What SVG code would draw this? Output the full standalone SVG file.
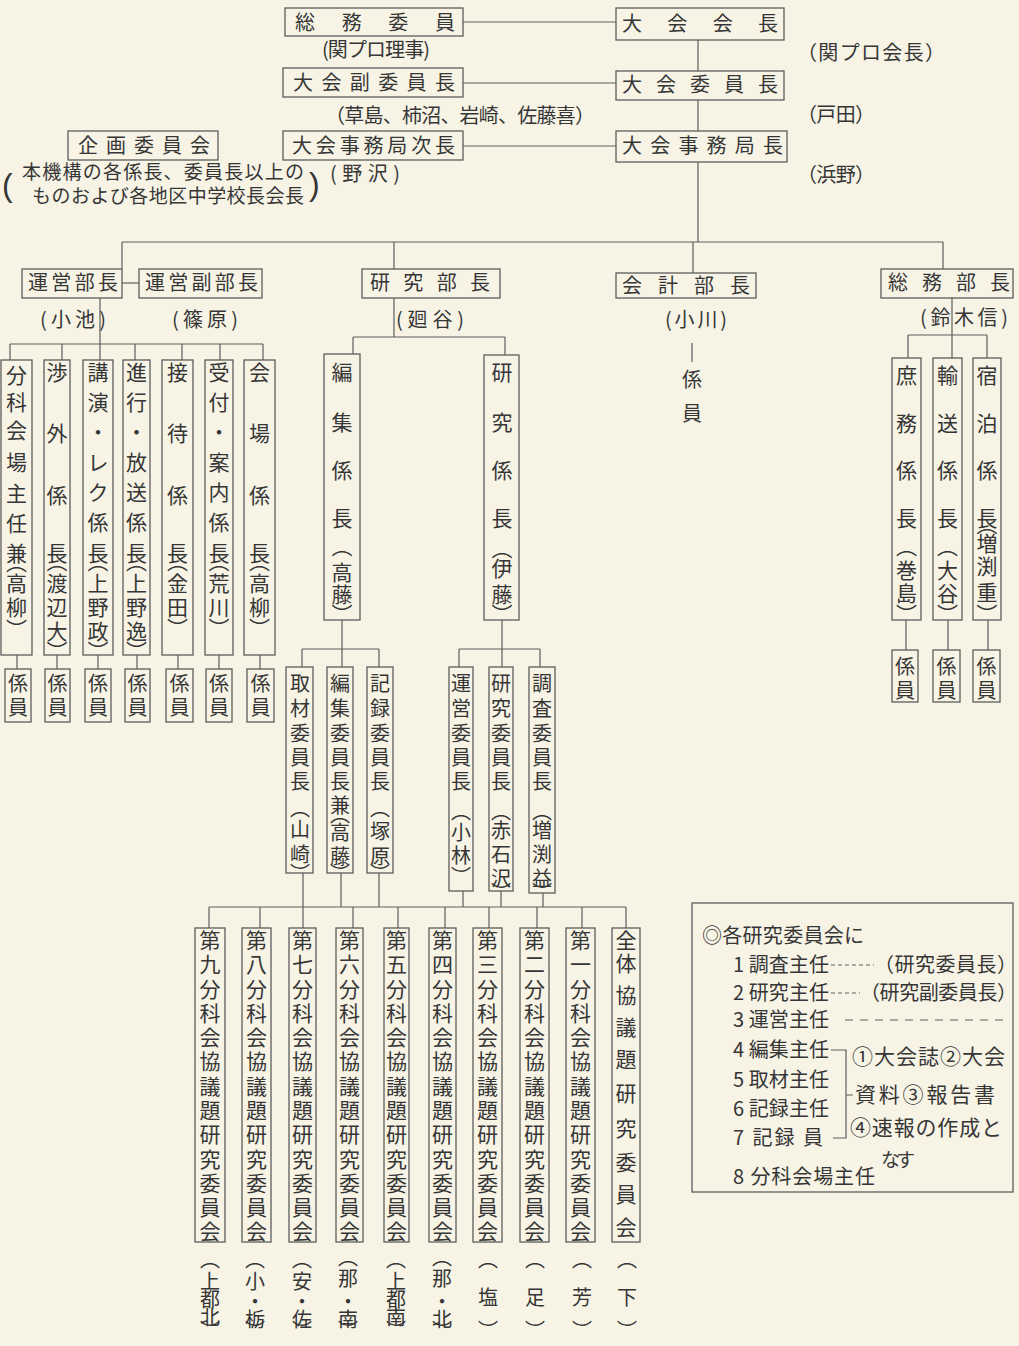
<svg xmlns="http://www.w3.org/2000/svg" width="1019" height="1346" viewBox="0 0 1019 1346">
<style>
text{font-family:"Noto Sans CJK JP","Noto Sans CJK SC",sans-serif;fill:#363636}
.h{font-size:20px}
.n{font-size:19px}
.v{font-size:21px;text-anchor:middle}
.s{font-size:20px;text-anchor:middle}
.g{font-size:21px}
.bx{fill:none;stroke:#5c5c5c;stroke-width:1.3}
#connectors path{stroke:#5c5c5c;stroke-width:1.2;fill:none}
.ln{stroke:#5c5c5c;stroke-width:1.2;fill:none}
.d1{stroke-dasharray:4 3}
.d2{stroke-dasharray:8 7}
.par{font-family:"Liberation Sans",sans-serif;font-size:32px}
</style>
<rect x="0" y="0" width="1019" height="1346" fill="#f7f4e6"/>

<g id="connectors">
<path d="M463 22H616M463 83H616M463 146H616"/>
<path d="M698 40V71M698 100V131M698 162V242"/>
<path d="M122 242H943M122 242V269M394 242V269M693 242V273M943 242V269"/>
<path d="M122 283H139"/>
<path d="M100 298V360M10 344H263M10 344V360M62 344V360M135 344V360M182 344V360M220 344V360M263 344V360"/>
<path d="M17 655V669M57 655V669M98 655V669M137 655V669M178 655V669M219 655V669M260 655V669"/>
<path d="M394 298V337M353 337H505M353 337V354M505 337V355"/>
<path d="M342 620V667M302 649H379M302 649V667M379 649V667"/>
<path d="M502 620V667M459 649H540M459 649V667M540 649V667"/>
<path d="M303 873V907M341 873V907M379 873V907M463 891V907M501 891V907M543 893V907"/>
<path d="M209 907H626M209 907V928M260 907V928M303 907V928M353 907V928M398 907V928M445 907V928M489 907V928M537 907V928M582 907V928M626 907V928"/>
<path d="M692 343V362"/>
<path d="M952 298V358M908 335H987M908 335V358M987 335V358"/>
<path d="M906 620V650M948 620V650M988 620V650"/>
</g>

<!-- top nodes -->
<g id="soumu-iin"><rect class="bx" x="285" y="8" width="178" height="28"/><text class="h" x="295" y="30" textLength="160">総務委員</text><text class="h" x="322" y="57" textLength="108">(関プロ理事)</text></g>
<g id="fuku-iincho"><rect class="bx" x="283" y="68" width="180" height="29"/><text class="h" x="293" y="90" textLength="162">大会副委員長</text><text class="h" x="325" y="123" textLength="270">（草島、柿沼、岩崎、佐藤喜）</text></g>
<g id="jimu-jicho"><rect class="bx" x="283" y="131" width="180" height="29"/><text class="h" x="292" y="153" textLength="163">大会事務局次長</text><text class="h" x="330" y="181" textLength="70">(野沢)</text></g>
<g id="kikaku"><rect class="bx" x="68" y="131" width="150" height="29"/><text class="h" x="78" y="153" textLength="132">企画委員会</text>
<text class="par" x="2" y="196">(</text><text class="n"><tspan x="22" y="179" textLength="282">本機構の各係長、委員長以上の</tspan><tspan x="32" y="203" textLength="272">ものおよび各地区中学校長会長</tspan></text><text class="par" x="309" y="195">)</text></g>
<g id="kaicho"><rect class="bx" x="616" y="8" width="168" height="32"/><text class="h" x="622" y="31" textLength="156">大会会長</text><text class="h" x="797" y="60" textLength="148">（関プロ会長）</text></g>
<g id="iincho"><rect class="bx" x="616" y="71" width="168" height="29"/><text class="h" x="622" y="92" textLength="156">大会委員長</text><text class="h" x="797" y="122" textLength="78">（戸田）</text></g>
<g id="jimukyokucho"><rect class="bx" x="616" y="131" width="171" height="31"/><text class="h" x="622" y="153" textLength="161">大会事務局長</text><text class="h" x="797" y="182" textLength="78">（浜野）</text></g>

<!-- department heads -->
<g id="unei-bucho"><rect class="bx" x="22" y="269" width="100" height="29"/><text class="h" x="28" y="290" textLength="90">運営部長</text><text class="h" x="40" y="327" textLength="66">(小池)</text></g>
<g id="unei-fukubucho"><rect class="bx" x="139" y="269" width="123" height="29"/><text class="h" x="145" y="290" textLength="113">運営副部長</text><text class="h" x="172" y="327" textLength="66">(篠原)</text></g>
<g id="kenkyu-bucho"><rect class="bx" x="362" y="269" width="138" height="29"/><text class="h" x="370" y="290" textLength="120">研究部長</text><text class="h" x="396" y="327" textLength="68">(廻谷)</text></g>
<g id="kaikei-bucho"><rect class="bx" x="616" y="273" width="140" height="25"/><text class="h" x="622" y="293" textLength="128">会計部長</text><text class="h" x="665" y="327" textLength="62">(小川)</text>
<text class="s" x="692 692" y="387 421">係員</text></g>
<g id="soumu-bucho"><rect class="bx" x="881" y="269" width="132" height="29"/><text class="h" x="888" y="290" textLength="122">総務部長</text><text class="h" x="920" y="325" textLength="88">(鈴木信)</text></g>

<!-- unei columns -->
<g id="bunka-shunin"><rect class="bx" x="1" y="360" width="31" height="295"/><text class="v" x="16.5 16.5 16.5 16.5 16.5 16.5 16.5 16.5 16.5 16.5 16.5" y="383 410 438 470 501 531 561 570 591 615 637">分科会場主任兼︵高柳︶</text></g>
<g id="shogai"><rect class="bx" x="44" y="360" width="26" height="295"/><text class="v" x="57 57 57 57 57 57 57 57 57" y="380 441 503 561 569 591 615 639 659">渉外係長︵渡辺大︶</text></g>
<g id="koen"><rect class="bx" x="83" y="360" width="30" height="295"/><text class="v" x="98 98 98 98 98 98 98 98 98 98 98 98" y="380 410 440 470 500 530 561 569 591 615 639 659">講演・レク係長︵上野政︶</text></g>
<g id="shinko"><rect class="bx" x="123" y="360" width="27" height="295"/><text class="v" x="136.5 136.5 136.5 136.5 136.5 136.5 136.5 136.5 136.5 136.5 136.5 136.5" y="380 410 440 470 500 530 561 569 591 615 639 659">進行・放送係長︵上野逸︶</text></g>
<g id="settai"><rect class="bx" x="162" y="360" width="31" height="295"/><text class="v" x="177.5 177.5 177.5 177.5 177.5 177.5 177.5 177.5" y="380 441 503 561 569 591 615 636">接待係長︵金田︶</text></g>
<g id="uketsuke"><rect class="bx" x="205" y="360" width="28" height="295"/><text class="v" x="219 219 219 219 219 219 219 219 219 219 219" y="380 410 440 470 500 530 561 569 591 615 636">受付・案内係長︵荒川︶</text></g>
<g id="kaijo"><rect class="bx" x="244" y="360" width="31" height="295"/><text class="v" x="259.5 259.5 259.5 259.5 259.5 259.5 259.5 259.5" y="380 441 503 561 569 591 615 636">会場係長︵高柳︶</text></g>
<g id="kakarin-l1"><rect class="bx" x="5" y="669" width="26" height="53"/><text class="s" x="18 18" y="691 715">係員</text></g>
<g id="kakarin-l2"><rect class="bx" x="45" y="669" width="25" height="53"/><text class="s" x="57.5 57.5" y="691 715">係員</text></g>
<g id="kakarin-l3"><rect class="bx" x="85" y="669" width="26" height="53"/><text class="s" x="98 98" y="691 715">係員</text></g>
<g id="kakarin-l4"><rect class="bx" x="125" y="669" width="25" height="53"/><text class="s" x="137.5 137.5" y="691 715">係員</text></g>
<g id="kakarin-l5"><rect class="bx" x="166" y="669" width="27" height="53"/><text class="s" x="179.5 179.5" y="691 715">係員</text></g>
<g id="kakarin-l6"><rect class="bx" x="206" y="669" width="26" height="53"/><text class="s" x="219 219" y="691 715">係員</text></g>
<g id="kakarin-l7"><rect class="bx" x="247" y="669" width="27" height="53"/><text class="s" x="260.5 260.5" y="691 715">係員</text></g>

<!-- kenkyu -->
<g id="henshu-kakaricho"><rect class="bx" x="324" y="354" width="36" height="266"/><text class="v" x="342 342 342 342 342 342 342 342" y="380 430 478 526 554 580 602 622">編集係長︵高藤︶</text></g>
<g id="kenkyu-kakaricho"><rect class="bx" x="484" y="355" width="35" height="265"/><text class="v" x="502 502 502 502 502 502 502 502" y="380 430 478 526 556 576 602 622">研究係長︵伊藤︶</text></g>
<g id="shuzai"><rect class="bx" x="286" y="667" width="27" height="206"/><text class="s" x="300 300 300 300 300 300 300 300 300" y="691 716 741 765 789 816 837 862 881">取材委員長︵山崎︶</text></g>
<g id="henshu-iincho"><rect class="bx" x="327" y="667" width="26" height="206"/><text class="s" x="340 340 340 340 340 340 340 340 340 340" y="691 716 741 765 789 813 822 840 864 881">編集委員長兼︵高藤︶</text></g>
<g id="kiroku"><rect class="bx" x="367" y="667" width="26" height="206"/><text class="s" x="380 380 380 380 380 380 380 380 380" y="691 716 741 765 789 816 839 864 881">記録委員長︵塚原︶</text></g>
<g id="unei-iincho"><rect class="bx" x="449" y="667" width="24" height="224"/><text class="s" x="461 461 461 461 461 461 461 461 461" y="691 716 741 765 789 819 840 863 884">運営委員長︵小林︶</text></g>
<g id="kenkyu-iincho"><rect class="bx" x="489" y="667" width="24" height="224"/><text class="s" x="501 501 501 501 501 501 501 501 501 501" y="691 716 741 765 789 819 838 862 886 900">研究委員長︵赤石沢︶</text></g>
<g id="chosa-iincho"><rect class="bx" x="529" y="667" width="26" height="226"/><text class="s" x="542 542 542 542 542 542 542 542 542 542" y="691 716 741 765 789 819 838 862 886 900">調査委員長︵増渕益︶</text></g>

<!-- bunkakai -->
<g id="bunka9"><rect class="bx" x="195" y="928" width="30" height="314"/><text class="v" x="210 210 210 210 210 210 210 210 210 210 210 210 210" y="948 972 997 1021 1045 1069 1094 1118 1142 1167 1191 1215 1239">第九分科会協議題研究委員会</text><text class="s" x="210 210 210 210 210" y="1267 1289 1307 1325 1338">︵上都北︶</text></g>
<g id="bunka8"><rect class="bx" x="242" y="928" width="29" height="314"/><text class="v" x="256.5 256.5 256.5 256.5 256.5 256.5 256.5 256.5 256.5 256.5 256.5 256.5 256.5" y="948 972 997 1021 1045 1069 1094 1118 1142 1167 1191 1215 1239">第八分科会協議題研究委員会</text><text class="s" x="255 255 255 255 255" y="1267 1289 1309 1327 1338">︵小・栃︶</text></g>
<g id="bunka7"><rect class="bx" x="289" y="928" width="27" height="314"/><text class="v" x="302.5 302.5 302.5 302.5 302.5 302.5 302.5 302.5 302.5 302.5 302.5 302.5 302.5" y="948 972 997 1021 1045 1069 1094 1118 1142 1167 1191 1215 1239">第七分科会協議題研究委員会</text><text class="s" x="302 302 302 302 302" y="1267 1289 1309 1327 1338">︵安・佐︶</text></g>
<g id="bunka6"><rect class="bx" x="336" y="928" width="27" height="314"/><text class="v" x="349.5 349.5 349.5 349.5 349.5 349.5 349.5 349.5 349.5 349.5 349.5 349.5 349.5" y="948 972 997 1021 1045 1069 1094 1118 1142 1167 1191 1215 1239">第六分科会協議題研究委員会</text><text class="s" x="348 348 348 348 348" y="1265 1286 1309 1327 1338">︵那・南︶</text></g>
<g id="bunka5"><rect class="bx" x="384" y="928" width="25" height="314"/><text class="v" x="396.5 396.5 396.5 396.5 396.5 396.5 396.5 396.5 396.5 396.5 396.5 396.5 396.5" y="948 972 997 1021 1045 1069 1094 1118 1142 1167 1191 1215 1239">第五分科会協議題研究委員会</text><text class="s" x="396 396 396 396 396" y="1267 1289 1307 1325 1338">︵上都南︶</text></g>
<g id="bunka4"><rect class="bx" x="429" y="928" width="27" height="314"/><text class="v" x="442.5 442.5 442.5 442.5 442.5 442.5 442.5 442.5 442.5 442.5 442.5 442.5 442.5" y="948 972 997 1021 1045 1069 1094 1118 1142 1167 1191 1215 1239">第四分科会協議題研究委員会</text><text class="s" x="442 442 442 442 442" y="1265 1286 1309 1327 1338">︵那・北︶</text></g>
<g id="bunka3"><rect class="bx" x="473" y="928" width="29" height="314"/><text class="v" x="487.5 487.5 487.5 487.5 487.5 487.5 487.5 487.5 487.5 487.5 487.5 487.5 487.5" y="948 972 997 1021 1045 1069 1094 1118 1142 1167 1191 1215 1239">第三分科会協議題研究委員会</text><text class="s" x="488 488 488" y="1267 1305 1338">︵塩︶</text></g>
<g id="bunka2"><rect class="bx" x="520" y="928" width="29" height="314"/><text class="v" x="534.5 534.5 534.5 534.5 534.5 534.5 534.5 534.5 534.5 534.5 534.5 534.5 534.5" y="948 972 997 1021 1045 1069 1094 1118 1142 1167 1191 1215 1239">第二分科会協議題研究委員会</text><text class="s" x="535 535 535" y="1267 1305 1338">︵足︶</text></g>
<g id="bunka1"><rect class="bx" x="566" y="928" width="29" height="314"/><text class="v" x="580.5 580.5 580.5 580.5 580.5 580.5 580.5 580.5 580.5 580.5 580.5 580.5 580.5" y="948 972 997 1021 1045 1069 1094 1118 1142 1167 1191 1215 1239">第一分科会協議題研究委員会</text><text class="s" x="582 582 582" y="1267 1305 1338">︵芳︶</text></g>
<g id="zentai"><rect class="bx" x="612" y="928" width="28" height="314"/><text class="v" x="626 626 626 626 626 626 626 626 626 626" y="948 971 1003 1035 1067 1101 1136 1170 1202 1235">全体協議題研究委員会</text><text class="s" x="627 627 627" y="1267 1305 1338">︵下︶</text></g>

<!-- soumu columns -->
<g id="shomu"><rect class="bx" x="892" y="358" width="29" height="262"/><text class="v" x="906.5 906.5 906.5 906.5 906.5 906.5 906.5 906.5" y="383 431 478 526 554 578 601 622">庶務係長︵巻島︶</text></g>
<g id="yuso"><rect class="bx" x="933" y="358" width="29" height="262"/><text class="v" x="947.5 947.5 947.5 947.5 947.5 947.5 947.5 947.5" y="383 431 478 526 554 578 601 622">輸送係長︵大谷︶</text></g>
<g id="shukuhaku"><rect class="bx" x="973" y="358" width="28" height="262"/><text class="v" x="987 987 987 987 987 987 987 987 987" y="383 431 478 526 532 551 574 600 622">宿泊係長︵増渕重︶</text></g>
<g id="kakarin-r1"><rect class="bx" x="892" y="650" width="26" height="52"/><text class="s" x="905 905" y="674 698">係員</text></g>
<g id="kakarin-r2"><rect class="bx" x="933" y="650" width="27" height="52"/><text class="s" x="946.5 946.5" y="674 698">係員</text></g>
<g id="kakarin-r3"><rect class="bx" x="973" y="650" width="27" height="52"/><text class="s" x="986.5 986.5" y="674 698">係員</text></g>

<!-- legend -->
<g id="legend">
<rect class="bx" x="692" y="903" width="321" height="289"/>
<text class="h" x="702" y="943" textLength="162">◎各研究委員会に</text>
<text class="h" x="733" y="972" textLength="96">1 調査主任</text>
<path class="ln d1" d="M831 965H874"/>
<text class="h" x="874" y="972" textLength="143">（研究委員長）</text>
<text class="h" x="733" y="1000" textLength="96">2 研究主任</text>
<path class="ln d1" d="M831 993H860"/>
<text class="h" x="860" y="1000" textLength="157">（研究副委員長）</text>
<text class="h" x="733" y="1027" textLength="96">3 運営主任</text>
<path class="ln d2" d="M845 1020H1006"/>
<text class="h" x="733" y="1057" textLength="96">4 編集主任</text>
<text class="h" x="733" y="1087" textLength="96">5 取材主任</text>
<text class="h" x="733" y="1116" textLength="96">6 記録主任</text>
<text class="h" x="733" y="1145" textLength="90">7 記録 員</text>
<text class="h" x="733" y="1184" textLength="142">8 分科会場主任</text>
<path class="ln" d="M831 1050H846V1138H833M846 1095H853"/>
<text class="g" x="852" y="1064" textLength="153">①大会誌②大会</text>
<text class="g" x="855" y="1102" textLength="140">資料③報告書</text>
<text class="g" x="850" y="1135" textLength="152">④速報の作成と</text>
<text class="n" x="881" y="1167" textLength="34">なす</text>
</g>
</svg>
